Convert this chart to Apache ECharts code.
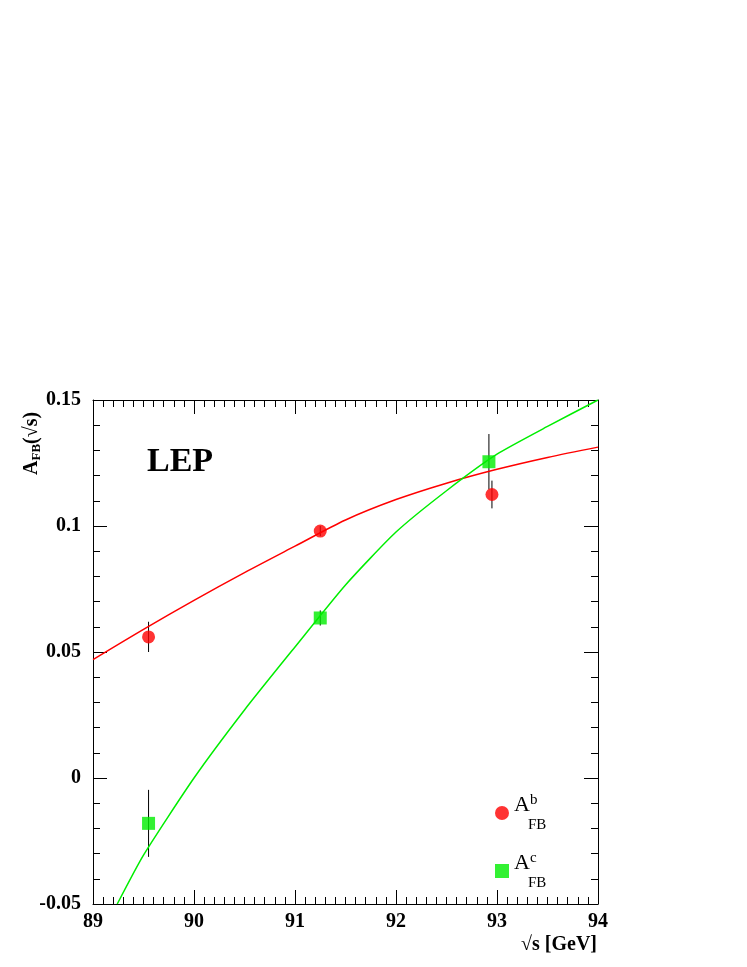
<!DOCTYPE html>
<html lang="en">
<head>
<meta charset="UTF-8">
<title>AFB LEP</title>
<script src="https://cdn.jsdelivr.net/npm/echarts@6/dist/echarts.min.js"></script>
<style>
  html, body { margin: 0; padding: 0; background: #fff; }
  #chart { width: 747px; height: 967px; }
</style>
</head>
<body>
<div id="chart"></div>
<script>
// measured points: [sqrt(s), value, error]
var bPoints = [[89.55, 0.056, 0.006], [91.25, 0.098, 0.002], [92.95, 0.1125, 0.0055]];
var cPoints = [[89.55, -0.018, 0.0133], [91.25, 0.0635, 0.003], [92.92, 0.1255, 0.011]];
// model curves
var bCurve = [[89, 0.047], [89.5, 0.059], [90, 0.0705], [90.5, 0.0815], [91, 0.092], [91.5, 0.1024],
  [92, 0.1105], [92.5, 0.117], [93, 0.1225], [93.5, 0.1272], [94, 0.1313]];
var cCurve = [[89.24, -0.05], [89.5, -0.0306], [90, 0.0], [90.5, 0.027], [91, 0.052], [91.5, 0.0766],
  [92, 0.0976], [92.5, 0.114], [93, 0.1285], [93.5, 0.1395], [94, 0.15]];

var myChart = echarts.init(document.getElementById('chart'));

function errSeries(pts) {
  return {
    type: 'custom',
    data: pts,
    z: 1,
    renderItem: function (params, api) {
      var top = api.coord([api.value(0), api.value(1) + api.value(2)]);
      var bot = api.coord([api.value(0), api.value(1) - api.value(2)]);
      return { type: 'line', shape: { x1: top[0], y1: top[1], x2: bot[0], y2: bot[1] },
        style: { stroke: '#000', lineWidth: 1 } };
    }
  };
}

var font = 'Liberation Serif';
var tickStyle = { inside: true, length: 14, lineStyle: { color: '#000' } };
var lineStyle = { show: true, onZero: false, lineStyle: { color: '#000' } };
var option = {
  animation: false,
  textStyle: { fontFamily: font },
  grid: { left: 93, right: 149, top: 400, bottom: 63 },
  title: {
    text: 'LEP', left: 142, top: 440,
    textStyle: { fontFamily: font, fontSize: 34, fontWeight: 'bold', color: '#000' }
  },
  graphic: [
    { type: 'text', left: 20, top: 400, rotation: Math.PI / 2, originX: 0, originY: 0,
      style: { text: '{m|A}{u|FB}{m|(√s)}', x: 0, y: 0,
        rich: {
          m: { fontFamily: font, fontSize: 20, fontWeight: 'bold', fill: '#000' },
          u: { fontFamily: font, fontSize: 13, fontWeight: 'bold', fill: '#000', verticalAlign: 'bottom', padding: [10, 0, 0, 0] }
        } },
      position: [20, 475], left: null, top: null, rotation: Math.PI / 2 },
    { type: 'text', right: 150, top: 935,
      style: { text: '√s [GeV]', font: 'bold 20px ' + font, fill: '#000' } }
  ],
  legend: {
    orient: 'vertical', left: 490, top: 788, itemGap: 18,
    itemWidth: 14, itemHeight: 14,
    data: [
      { name: 'b', icon: 'circle', itemStyle: { color: '#ff0000' } },
      { name: 'c', icon: 'rect', itemStyle: { color: '#00ee00' } }
    ],
    formatter: function (n) { return '{a|A}{s|' + n + '}\n{u|FB}'; },
    textStyle: {
      fontFamily: font, color: '#000',
      rich: {
        a: { fontSize: 22, fontFamily: font },
        s: { fontSize: 15, fontFamily: font, verticalAlign: 'top', padding: [0, 0, 10, 0] },
        u: { fontSize: 15, fontFamily: font, padding: [0, 0, 0, 14] }
      }
    }
  },
  xAxis: [{
    type: 'value', min: 89, max: 94, interval: 1,
    axisLine: lineStyle, axisTick: tickStyle,
    minorTick: { show: true, splitNumber: 10, length: 7, lineStyle: { color: '#000' } },
    axisLabel: { fontFamily: font, fontSize: 20, fontWeight: 'bold', color: '#000', margin: 8 },
    splitLine: { show: false }
  }, {
    type: 'value', min: 89, max: 94, interval: 1, position: 'top',
    axisLine: lineStyle, axisTick: tickStyle,
    minorTick: { show: true, splitNumber: 10, length: 7, lineStyle: { color: '#000' } },
    axisLabel: { show: false }, splitLine: { show: false }
  }],
  yAxis: [{
    type: 'value', min: -0.05, max: 0.15, interval: 0.05,
    axisLine: lineStyle, axisTick: tickStyle,
    minorTick: { show: true, splitNumber: 5, length: 7, lineStyle: { color: '#000' } },
    axisLabel: {
      fontFamily: font, fontSize: 20, fontWeight: 'bold', color: '#000', margin: 12,
      formatter: function (v) { return Math.abs(v) < 1e-9 ? '0' : String(+v.toFixed(2)); }
    },
    splitLine: { show: false }
  }, {
    type: 'value', min: -0.05, max: 0.15, interval: 0.05, position: 'right',
    axisLine: lineStyle, axisTick: tickStyle,
    minorTick: { show: true, splitNumber: 5, length: 7, lineStyle: { color: '#000' } },
    axisLabel: { show: false }, splitLine: { show: false }
  }],
  series: [
    { type: 'line', data: bCurve, showSymbol: false, smooth: 0.3, lineStyle: { color: '#ff0000', width: 1.5 }, z: 2 },
    { type: 'line', data: cCurve, showSymbol: false, smooth: 0.2, lineStyle: { color: '#00ee00', width: 1.5 }, z: 2 },
    errSeries(bPoints),
    errSeries(cPoints),
    { name: 'b', type: 'scatter', data: bPoints, symbol: 'circle', symbolSize: 13, itemStyle: { color: '#ff0000' }, z: 3 },
    { name: 'c', type: 'scatter', data: cPoints, symbol: 'rect', symbolSize: 13, itemStyle: { color: '#00ee00' }, z: 3 }
  ]
};
myChart.setOption(option);
</script>
</body>
</html>
